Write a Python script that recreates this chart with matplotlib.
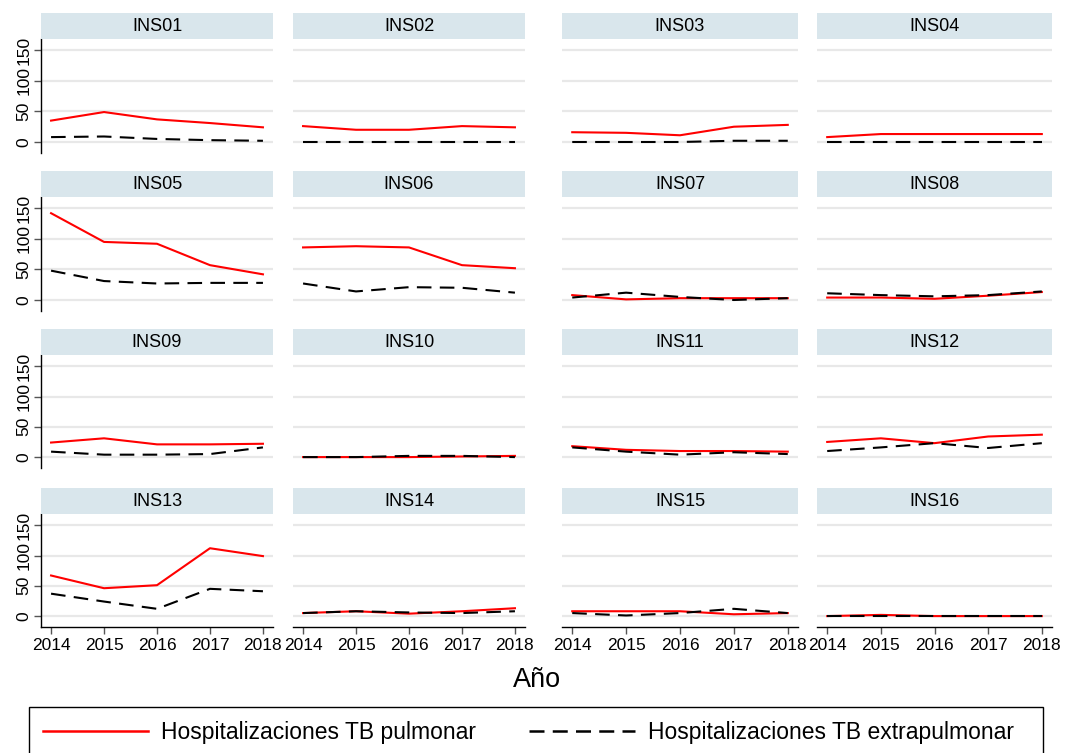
import matplotlib.pyplot as plt
from matplotlib.lines import Line2D
from matplotlib.patches import Rectangle

plt.rcParams["font.family"] = ["Liberation Sans", "DejaVu Sans"]

years = [2014, 2015, 2016, 2017, 2018]
institutos = ["INS01", "INS02", "INS03", "INS04", "INS05", "INS06", "INS07", "INS08",
              "INS09", "INS10", "INS11", "INS12", "INS13", "INS14", "INS15", "INS16"]

# hospitalizaciones por TB pulmonar, una fila por instituto
pulmonar = [
    [35, 49, 37, 31, 24],
    [26, 20, 20, 26, 24],
    [16, 15, 11, 25, 28],
    [8, 13, 13, 13, 13],
    [142, 95, 92, 57, 42],
    [86, 88, 86, 57, 52],
    [8, 1, 3, 3, 3],
    [4, 4, 2, 7, 13],
    [24, 31, 21, 21, 22],
    [0, 0, 0, 1, 2],
    [18, 12, 10, 10, 9],
    [25, 31, 23, 34, 37],
    [67, 46, 51, 112, 99],
    [5, 8, 4, 8, 13],
    [8, 8, 8, 3, 5],
    [0, 2, 0, 0, 0],
]

# hospitalizaciones por TB extrapulmonar
extrapulmonar = [
    [8, 9, 5, 3, 2],
    [0, 0, 0, 0, 0],
    [0, 0, 0, 2, 2],
    [0, 0, 0, 0, 0],
    [48, 31, 27, 28, 28],
    [27, 14, 21, 20, 12],
    [4, 12, 5, 0, 3],
    [11, 8, 6, 8, 14],
    [9, 4, 4, 5, 16],
    [0, 0, 2, 2, 0],
    [16, 9, 4, 8, 5],
    [10, 16, 23, 15, 23],
    [37, 24, 12, 45, 41],
    [5, 8, 6, 5, 8],
    [5, 1, 5, 12, 5],
    [0, 0, 0, 0, 0],
]

W, H = 1075, 753
fig = plt.figure(figsize=(W / 100, H / 100), dpi=100)

# panel geometry in pixels
col_x = [(41, 273), (293, 525), (562, 798), (817, 1052)]
row_y = [(39, 153), (197, 311), (355, 468), (514, 627)]
strip_h = 26

strip_color = "#d9e6ec"
grid_color = "#e8e8e8"

for i, name in enumerate(institutos):
    r, c = divmod(i, 4)
    x0, x1 = col_x[c]
    top, bot = row_y[r]
    ax = fig.add_axes([x0 / W, 1 - bot / H, (x1 - x0) / W, (bot - top) / H])
    st = fig.add_axes([x0 / W, 1 - top / H, (x1 - x0) / W, strip_h / H])
    st.set_facecolor(strip_color)
    st.set_xticks([])
    st.set_yticks([])
    for s in st.spines.values():
        s.set_visible(False)
    st.text(0.5, 0.47, name, ha="center", va="center", fontsize=13,
            transform=st.transAxes)

    ax.plot(years, pulmonar[i], color="red", lw=1.5, zorder=3)
    ax.plot(years, extrapulmonar[i], color="black", lw=1.5, dashes=(7, 4), zorder=4)

    ax.set_xlim(2013.81, 2018.19)
    ax.set_ylim(-18, 168.5)
    ax.set_yticks([0, 50, 100, 150])
    ax.set_xticks(years)
    ax.grid(axis="y", color=grid_color, lw=1.6)
    ax.set_axisbelow(True)
    for side in ["top", "right"]:
        ax.spines[side].set_visible(False)
    ax.spines["left"].set_visible(c == 0)
    ax.spines["bottom"].set_visible(r == 3)
    ax.spines["left"].set_linewidth(1.0)
    ax.spines["bottom"].set_linewidth(1.0)

    if c == 0:
        ax.tick_params(axis="y", length=5, width=1, labelsize=12.5, pad=2,
                       color="#555555")
        for lab in ax.get_yticklabels():
            lab.set_rotation(90)
            lab.set_va("center")
    else:
        ax.tick_params(axis="y", length=0, labelleft=False)
    if r == 3:
        ax.tick_params(axis="x", length=5, width=1, labelsize=12.5, pad=3,
                       color="#555555")
    else:
        ax.tick_params(axis="x", length=0, labelbottom=False)

fig.text(0.5, 1 - 680 / H, "Año", ha="center", va="center", fontsize=19.5)

# legend box spans almost the full width and runs off the bottom edge
fig.patches.append(Rectangle((29 / W, -0.02), (1043 - 29) / W, 0.02 + (753 - 707) / H,
                             transform=fig.transFigure, fill=False,
                             edgecolor="black", lw=1.0))

handles = [
    Line2D([], [], color="red", lw=1.8),
    Line2D([], [], color="black", lw=1.8, dashes=(6, 3.3)),
]
labels = ["Hospitalizaciones TB pulmonar", "Hospitalizaciones TB extrapulmonar"]
fig.legend(handles, labels, loc="center left", ncol=2,
           bbox_to_anchor=(43 / W, 1 - 733 / H),
           fontsize=16.5, handlelength=4.6, handletextpad=0.57,
           columnspacing=2.3, frameon=False,
           borderaxespad=0, borderpad=0)

fig.savefig("out.png", dpi=100)
